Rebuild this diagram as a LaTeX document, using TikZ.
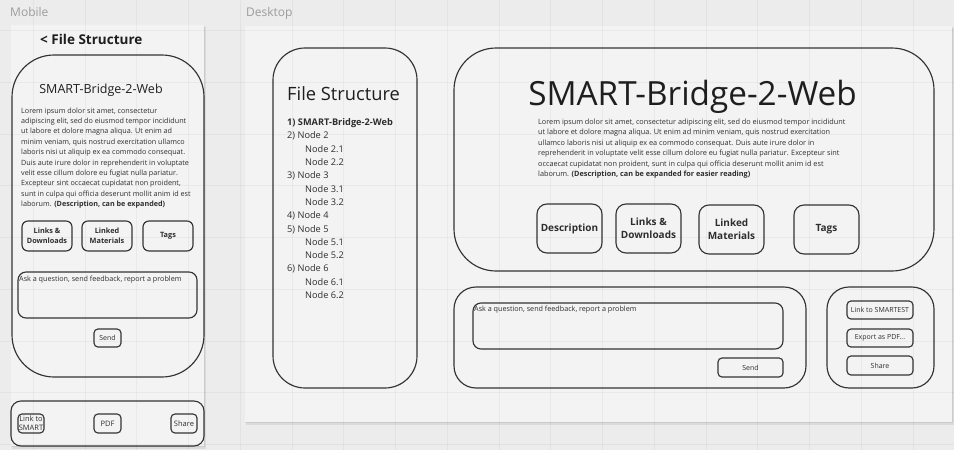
\documentclass[tikz,border=0pt]{standalone}
\usepackage{fontspec}
\setmainfont{Open Sans}
\definecolor{canvas}{HTML}{ECECEC}
\definecolor{framefill}{HTML}{F3F3F3}
\definecolor{linec}{HTML}{333333}
\definecolor{txt}{HTML}{2E2E2E}
\definecolor{ttl}{HTML}{1E1E1E}
\definecolor{lbl}{HTML}{9C9C9C}
\newcommand\myfs[2]{\fontsize{#1}{#2}\selectfont}
\tikzset{
  box/.style={draw=linec, line width=1.15pt, inner sep=0pt, rectangle, text=txt, align=center},
  bigbtn/.style={box, rounded corners=10pt, minimum width=65pt, minimum height=49pt, font=\bfseries\myfs{10}{13}},
  mbtn/.style={box, rounded corners=6pt, minimum width=50pt, minimum height=30pt, font=\bfseries\myfs{7.3}{10.3}},
  smallbtn/.style={box, rounded corners=4pt, font=\myfs{7}{9}},
  textarea/.style={box, rounded corners=8pt, minimum height=46pt},
  plain/.style={inner sep=0pt, text=txt, align=left},
  gridline/.style={black, opacity=0.04, line width=0.6pt},
  framebg/.style={fill=framefill},
  frameshadow/.style={fill=black, opacity=0.07}
}
\begin{document}
\begin{tikzpicture}[x=1pt,y=-1pt]
\useasboundingbox (0,0) rectangle (954,450);
\fill[canvas] (0,0) rectangle (954,450);
% frames with shadows
\fill[frameshadow] (11.5,26.5) rectangle (205.5,448.5);
\fill[frameshadow] (11,26) rectangle (205,447.2);
\fill[framebg] (11,25) rectangle (204,446);
\fill[frameshadow] (245.5,27.5) rectangle (953.5,424.5);
\fill[frameshadow] (245,27) rectangle (953,423.2);
\fill[framebg] (245,26) rectangle (952,422);
% grid
\foreach \k in {0,...,18} \draw[gridline] ({33.25+\k*51.75},0) -- ({33.25+\k*51.75},450);
\foreach \k in {0,...,8} \draw[gridline] (0,{30.5+\k*51.75}) -- (954,{30.5+\k*51.75});
% frame labels
\node[anchor=base west, inner sep=0pt, text=lbl, font=\myfs{12}{14}] (lblmobile) at (10,16) {Mobile};
\node[anchor=base west, inner sep=0pt, text=lbl, font=\myfs{12}{14}] (lbldesktop) at (246,16) {Desktop};

% ---------------- Mobile ----------------
\node[anchor=base west, inner sep=0pt, text=ttl, font=\bfseries\myfs{13.5}{16}] (mhead) at (40,44) {< File Structure};
\node[box, rounded corners=42pt, minimum width=192pt, minimum height=322pt] (mcard) at (108,216) {};
\node[anchor=base, inner sep=0pt, text=ttl, font=\myfs{12.5}{15}] (mtitle) at (101,93.5) {SMART-Bridge-2-Web};
\node[plain, anchor=north west, font=\myfs{7.2}{10.4}] (mdesc) at (21,107.5) {%
Lorem ipsum dolor sit amet, consectetur\\
adipiscing elit, sed do eiusmod tempor incididunt\\
ut labore et dolore magna aliqua. Ut enim ad\\
minim veniam, quis nostrud exercitation ullamco\\
laboris nisi ut aliquip ex ea commodo consequat.\\
Duis aute irure dolor in reprehenderit in voluptate\\
velit esse cillum dolore eu fugiat nulla pariatur.\\
Excepteur sint occaecat cupidatat non proident,\\
sunt in culpa qui officia deserunt mollit anim id est\\
laborum. \textbf{(Description, can be expanded)}};
\node[mbtn] (mlinks) at (47,236) {Links \&\\Downloads};
\node[mbtn] (mmat) at (107,236) {Linked\\Materials};
\node[mbtn] (mtags) at (168,236) {Tags};
\node[textarea, minimum width=179pt] (mtext) at (107.5,295) {};
\node[plain, anchor=base west, font=\myfs{7.2}{9}] (mhint) at (19,281.5) {Ask a question, send feedback, report a problem};
\node[smallbtn, minimum width=27pt, minimum height=18pt] (msend) at (107.5,338) {Send};
\node[box, rounded corners=10pt, minimum width=193pt, minimum height=45pt] (mbar) at (107.5,423.5) {};
\node[smallbtn, minimum width=26pt, minimum height=19pt, font=\myfs{7.5}{9}] (mlink) at (31,423.5) {Link to\\SMART};
\node[smallbtn, minimum width=27pt, minimum height=19pt, font=\myfs{7.5}{9}] (mpdf) at (107.5,423.5) {PDF};
\node[smallbtn, minimum width=26pt, minimum height=19pt, font=\myfs{7.5}{9}] (mshare) at (184,423.5) {Share};

% ---------------- Desktop ----------------
\node[box, rounded corners=32pt, minimum width=144pt, minimum height=340pt] (dfile) at (345,218) {};
\node[anchor=base west, inner sep=0pt, text=ttl, font=\myfs{18.3}{22}] (dfiletitle) at (287,100) {File Structure};
\node[plain, anchor=north west, font=\myfs{9.2}{13.3}] (dlist) at (287,118.5) {%
\textbf{1) SMART-Bridge-2-Web}\\
2) Node 2\\
\hspace*{18pt}Node 2.1\\
\hspace*{18pt}Node 2.2\\
3) Node 3\\
\hspace*{18pt}Node 3.1\\
\hspace*{18pt}Node 3.2\\
4) Node 4\\
5) Node 5\\
\hspace*{18pt}Node 5.1\\
\hspace*{18pt}Node 5.2\\
6) Node 6\\
\hspace*{18pt}Node 6.1\\
\hspace*{18pt}Node 6.2};

\node[box, rounded corners=42pt, minimum width=480pt, minimum height=223pt] (dmain) at (694,159.5) {};
\node[anchor=base, inner sep=0pt, text=ttl, font=\myfs{33.3}{38}] (dtitle) at (692.5,105) {SMART-Bridge-2-Web};
\node[plain, anchor=north west, font=\myfs{7.3}{10.5}] (ddesc) at (538,118.5) {%
Lorem ipsum dolor sit amet, consectetur adipiscing elit, sed do eiusmod tempor incididunt\\
ut labore et dolore magna aliqua. Ut enim ad minim veniam, quis nostrud exercitation\\
ullamco laboris nisi ut aliquip ex ea commodo consequat. Duis aute irure dolor in\\
reprehenderit in voluptate velit esse cillum dolore eu fugiat nulla pariatur. Excepteur sint\\
occaecat cupidatat non proident, sunt in culpa qui officia deserunt mollit anim id est\\
laborum. \textbf{(Description, can be expanded for easier reading)}};
\node[bigbtn] (ddescbtn) at (569.5,228.5) {Description};
\node[bigbtn] (dlinks) at (648.5,228.5) {Links \&\\Downloads};
\node[bigbtn] (dmat) at (731.5,229.5) {Linked\\Materials};
\node[bigbtn] (dtags) at (826.5,229.5) {Tags};

\node[box, rounded corners=22pt, minimum width=352pt, minimum height=101pt] (dfeed) at (630,337.5) {};
\node[textarea, minimum width=310pt] (dtext) at (628,326) {};
\node[plain, anchor=base west, font=\myfs{7.2}{9}] (dhint) at (474,311.5) {Ask a question, send feedback, report a problem};
\node[smallbtn, minimum width=65pt, minimum height=19pt] (dsend) at (750.5,367.5) {Send};

\node[box, rounded corners=22pt, minimum width=107pt, minimum height=101pt] (dside) at (880.5,337.5) {};
\node[smallbtn, minimum width=66pt, minimum height=18pt] (dlink) at (880,310) {Link to SMARTEST};
\node[smallbtn, minimum width=66pt, minimum height=18pt] (dpdf) at (880,338) {Export as PDF...};
\node[smallbtn, minimum width=66pt, minimum height=19pt] (dshare) at (880,365.5) {Share};
\end{tikzpicture}
\end{document}
